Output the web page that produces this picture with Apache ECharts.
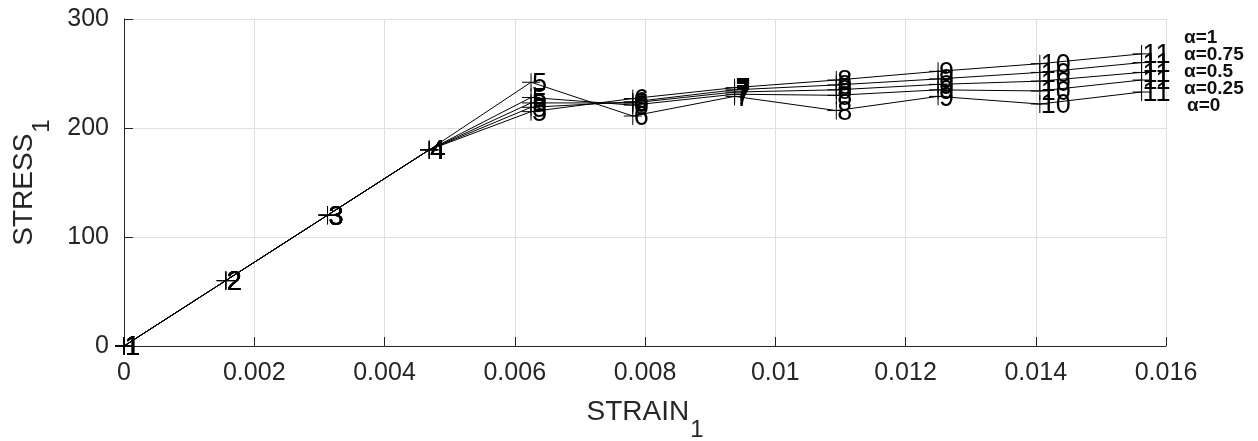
<!DOCTYPE html>
<html>
<head>
<meta charset="utf-8">
<script src="https://cdn.jsdelivr.net/npm/echarts@6/dist/echarts.min.js"></script>
<style>html,body{margin:0;padding:0;background:#fff}#c{width:1258px;height:441px}</style>
</head>
<body>
<div id="c"></div>
<script>
const strain = [0, 0.0015625, 0.003125, 0.0046875, 0.00625, 0.0078125, 0.009375, 0.0109375, 0.0125, 0.0140625, 0.015625];
const stressA0    = [0, 60, 120, 180, 242, 211, 229, 216, 229, 222, 233];
const stressA025  = [0, 60, 120, 180, 228, 221, 231, 230, 235, 234, 244];
const stressA05   = [0, 60, 120, 180, 223, 223, 233, 235, 240, 243, 251];
const stressA075  = [0, 60, 120, 180, 219, 224, 235, 239.5, 245, 251, 260];
const stressA1    = [0, 60, 120, 180, 215, 227, 237, 244, 252, 259, 268];
const seriesNames = ['α=0', 'α=0.25', 'α=0.5', 'α=0.75', 'α=1'];
const seriesData = [stressA0, stressA025, stressA05, stressA075, stressA1];
const legendLabels = ['α=1', 'α=0.75', 'α=0.5', 'α=0.25', 'α=0'];
const xTicks = [0, 0.002, 0.004, 0.006, 0.008, 0.01, 0.012, 0.014, 0.016];

const FONT = 'Liberation Sans, Arial, sans-serif';
const chart = echarts.init(document.getElementById('c'), null, {renderer: 'canvas'});

const series = seriesData.map((arr, i) => ({
  name: seriesNames[i],
  type: 'line',
  data: arr.map((v, k) => [strain[k], v]),
  symbol: 'path://M0,-8L0,8M-8,0L8,0',
  symbolSize: 18,
  showAllSymbol: true,
  animation: false,
  lineStyle: {color: '#000', width: 1},
  itemStyle: {color: 'none', borderColor: '#000', borderWidth: 1},
  label: {
    show: true,
    position: 'inside',
    align: 'left',
    verticalAlign: 'middle',
    offset: [1, 2],
    formatter: p => String(p.dataIndex + 1),
    color: '#000',
    fontSize: 27,
    fontFamily: FONT
  },
  emphasis: {disabled: true},
  z: 3
}));

const legendGraphics = legendLabels.map((t, i) => ({
  type: 'text',
  left: 1184 + (t === 'α=0' ? 3 : 0),
  top: 28 + i * 17,
  style: {text: t, fill: '#111', font: 'bold 19px Liberation Sans, Arial, sans-serif'}
}));

const nameRich = {
  a: {fontSize: 28, fontFamily: FONT, color: '#262626', verticalAlign: 'top', lineHeight: 42},
  b: {fontSize: 24, fontFamily: FONT, color: '#262626', verticalAlign: 'top', padding: [20, 0, 0, 1], lineHeight: 42}
};

chart.setOption({
  animation: false,
  backgroundColor: '#fff',
  grid: {left: 124, right: 92, top: 19, bottom: 95, containLabel: false, outerBoundsMode: 'none'},
  xAxis: {
    type: 'value',
    min: 0, max: 0.016, interval: 0.002,
    axisLine: {show: true, lineStyle: {color: '#262626', width: 1}},
    axisTick: {show: true, inside: true, length: 9, lineStyle: {color: '#262626'}},
    axisLabel: {color: '#262626', fontSize: 25, fontFamily: FONT, margin: 15,
      formatter: v => { const i = xTicks.findIndex(t => Math.abs(t - v) < 1e-9); return i >= 0 ? String(xTicks[i]) : ''; }},
    splitLine: {show: true, lineStyle: {color: '#dfdfdf', width: 1}},
    name: '{a|STRAIN}{b|1}',
    nameLocation: 'middle',
    nameGap: 52,
    nameTextStyle: {rich: nameRich}
  },
  yAxis: {
    type: 'value',
    min: 0, max: 300, interval: 100,
    axisLine: {show: true, lineStyle: {color: '#262626', width: 1}},
    axisTick: {show: true, inside: true, length: 9, lineStyle: {color: '#262626'}},
    axisLabel: {color: '#262626', fontSize: 25, fontFamily: FONT, margin: 15},
    splitLine: {show: true, lineStyle: {color: '#dfdfdf', width: 1}},
    name: '{a|STRESS}{b|1}',
    nameLocation: 'middle',
    nameGap: 72,
    nameRotate: 90,
    nameTextStyle: {rich: nameRich}
  },
  graphic: legendGraphics,
  series: series
});
</script>
</body>
</html>
